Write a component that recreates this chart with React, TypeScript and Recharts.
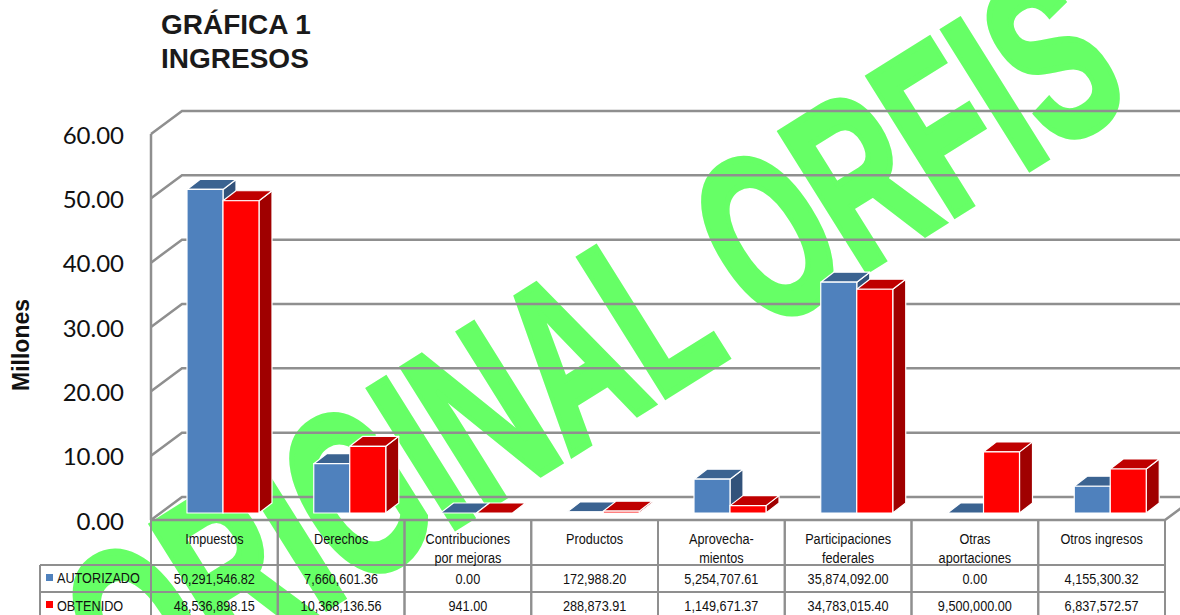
import { BarChart, Bar, XAxis, YAxis, CartesianGrid } from 'recharts';

const categories = ['Impuestos', 'Derechos', 'Contribuciones\npor mejoras', 'Productos', 'Aprovecha-\nmientos', 'Participaciones\nfederales', 'Otras\naportaciones', 'Otros ingresos'];
const autorizado = [50291546.82, 7660601.36, 0, 172988.2, 5254707.61, 35874092, 0, 4155300.32];
const obtenido = [48536898.15, 10368136.56, 941, 288873.91, 1149671.37, 34783015.4, 9500000, 6837572.57];
const yTicks = [0, 10000000, 20000000, 30000000, 40000000, 50000000, 60000000];

const data = categories.map((name, i) => ({ name, autorizado: autorizado[i], obtenido: obtenido[i] }));

const GREY = '#8f8f8f';
const TABLE_TOP = 520;
const ROW1 = 565;
const ROW2 = 592;
const ROW3 = 619;
const COL_W = 126.75;
const SANS = '"Liberation Sans", Arial, sans-serif';

const fmt = (v: number) => v.toLocaleString('en-US', { minimumFractionDigits: 2, maximumFractionDigits: 2 });

// 3D look: front face plus top and side faces
function Bar3D(props: any, front: string, top: string, side: string) {
    const { x, y, width, height } = props;
    const bx = x + 9;
    const by = y - 7;
    const d = 13;
    const e = 10;
    return (
        <g stroke="#fff" strokeWidth={1.2} strokeLinejoin="round">
            {height > 0.5 && (
                <path d={`M${bx + width},${by} l${d},${-e} v${height} l${-d},${e} z`} fill={side} />
            )}
            <path d={`M${bx},${by} l${d},${-e} h${width} l${-d},${e} z`} fill={top} />
            {height > 0.5 && <rect x={bx} y={by} width={width} height={height} fill={front} />}
        </g>
    );
}

// back wall lines
function GridLine(props: any) {
    const { x1, y1, x2 } = props;
    const isFloor = Math.abs(y1 - TABLE_TOP) < 1;
    return (
        <g stroke={GREY} strokeWidth={2.5} fill="none">
            <path d={`M${x1},${y1} l31,-23 H${x2 + 31}`} />
            {isFloor && <path d={`M${x1},${y1} H${x2} l31,-23`} />}
        </g>
    );
}

// the table text is squeezed like the original
function Cell({ x, y, children, anchor = 'middle' }: any) {
    return (
        <text transform={`translate(${x},${y}) scale(0.875,1)`} textAnchor={anchor}>
            {children}
        </text>
    );
}

function TableTick(props: any) {
    const { x, payload, index } = props;
    const left = x - COL_W / 2;
    const lines = String(payload.value).split('\n');
    return (
        <g fontFamily={SANS} fontSize={14.5} fill="#111">
            <g stroke={GREY} strokeWidth={2} fill="none">
                <path d={`M${left},${TABLE_TOP} V${ROW3} M${left + COL_W},${TABLE_TOP} V${ROW3}`} />
                <path d={`M${left},${ROW1} H${left + COL_W} M${left},${ROW2} H${left + COL_W}`} />
            </g>
            {lines.map((t, i) => (
                <Cell key={t} x={x} y={544 + i * 18.5}>{t}</Cell>
            ))}
            <Cell x={x} y={584}>{fmt(autorizado[index])}</Cell>
            <Cell x={x} y={611}>{fmt(obtenido[index])}</Cell>
            {index === 0 && (
                <g>
                    <path d={`M40,${ROW1} H${left} M40,${ROW2} H${left} M40,${ROW1} V${ROW3}`} stroke={GREY} strokeWidth={2} fill="none" />
                    <rect x={46} y={574} width={7} height={7} fill="#4f81bd" />
                    <Cell x={57} y={583} anchor="start">AUTORIZADO</Cell>
                    <rect x={46} y={601} width={7} height={7} fill="#ff0000" />
                    <Cell x={57} y={611} anchor="start">OBTENIDO</Cell>
                </g>
            )}
        </g>
    );
}

export default function App() {
    return (
        <div style={{ position: 'absolute', left: 0, top: 0, width: 1180, height: 615, overflow: 'hidden', background: '#fff' }}>
            <div
                style={{
                    position: 'absolute',
                    left: 592,
                    top: 345,
                    transform: 'translate(-50%, -50%) rotate(-32deg) scaleX(0.61)',
                    fontFamily: SANS,
                    fontWeight: 700,
                    fontSize: 236,
                    lineHeight: 1,
                    whiteSpace: 'nowrap',
                    color: '#66ff66',
                    WebkitTextStroke: '7px #66ff66',
                }}
            >
                ORIGINAL ORFIS
            </div>
            <div
                style={{
                    position: 'absolute',
                    left: 161,
                    top: 8,
                    fontFamily: SANS,
                    fontWeight: 700,
                    fontSize: 28,
                    lineHeight: '34px',
                    color: '#1a1a1a',
                }}
            >
                GRÁFICA 1<br />INGRESOS
            </div>
            <div style={{ position: 'absolute', left: 0, top: 0 }}>
                <BarChart
                    width={1180}
                    height={615}
                    data={data}
                    margin={{ top: 134, right: 15, bottom: 0, left: 0 }}
                    barSize={36}
                    barGap={0}
                >
                    <CartesianGrid vertical={false} horizontal={(p: any) => <GridLine key={p.index} {...p} />} />
                    <XAxis
                        dataKey="name"
                        interval={0}
                        height={95}
                        axisLine={false}
                        tickLine={false}
                        tick={(p: any) => <TableTick {...p} />}
                    />
                    <YAxis
                        width={151}
                        domain={[0, 60000000]}
                        ticks={yTicks}
                        interval={0}
                        tickLine={false}
                        axisLine={{ stroke: GREY, strokeWidth: 2.5 }}
                        tickMargin={21}
                        tickFormatter={(v: number) => (v / 1000000).toFixed(2)}
                        tick={{ fontFamily: 'Lato, sans-serif', fontSize: 24, fill: '#111', dy: 1 }}
                        label={{
                            value: 'Millones',
                            angle: -90,
                            position: 'insideLeft',
                            offset: 21,
                            dy: 18,
                            style: { fontFamily: SANS, fontWeight: 700, fontSize: 23, fill: '#111', textAnchor: 'middle' },
                        }}
                    />
                    <Bar dataKey="autorizado" isAnimationActive={false} shape={(p: any) => Bar3D(p, '#4f81bd', '#3b6391', '#32527a')} />
                    <Bar dataKey="obtenido" isAnimationActive={false} shape={(p: any) => Bar3D(p, '#ff0000', '#bf0000', '#a00000')} />
                </BarChart>
            </div>
        </div>
    );
}
